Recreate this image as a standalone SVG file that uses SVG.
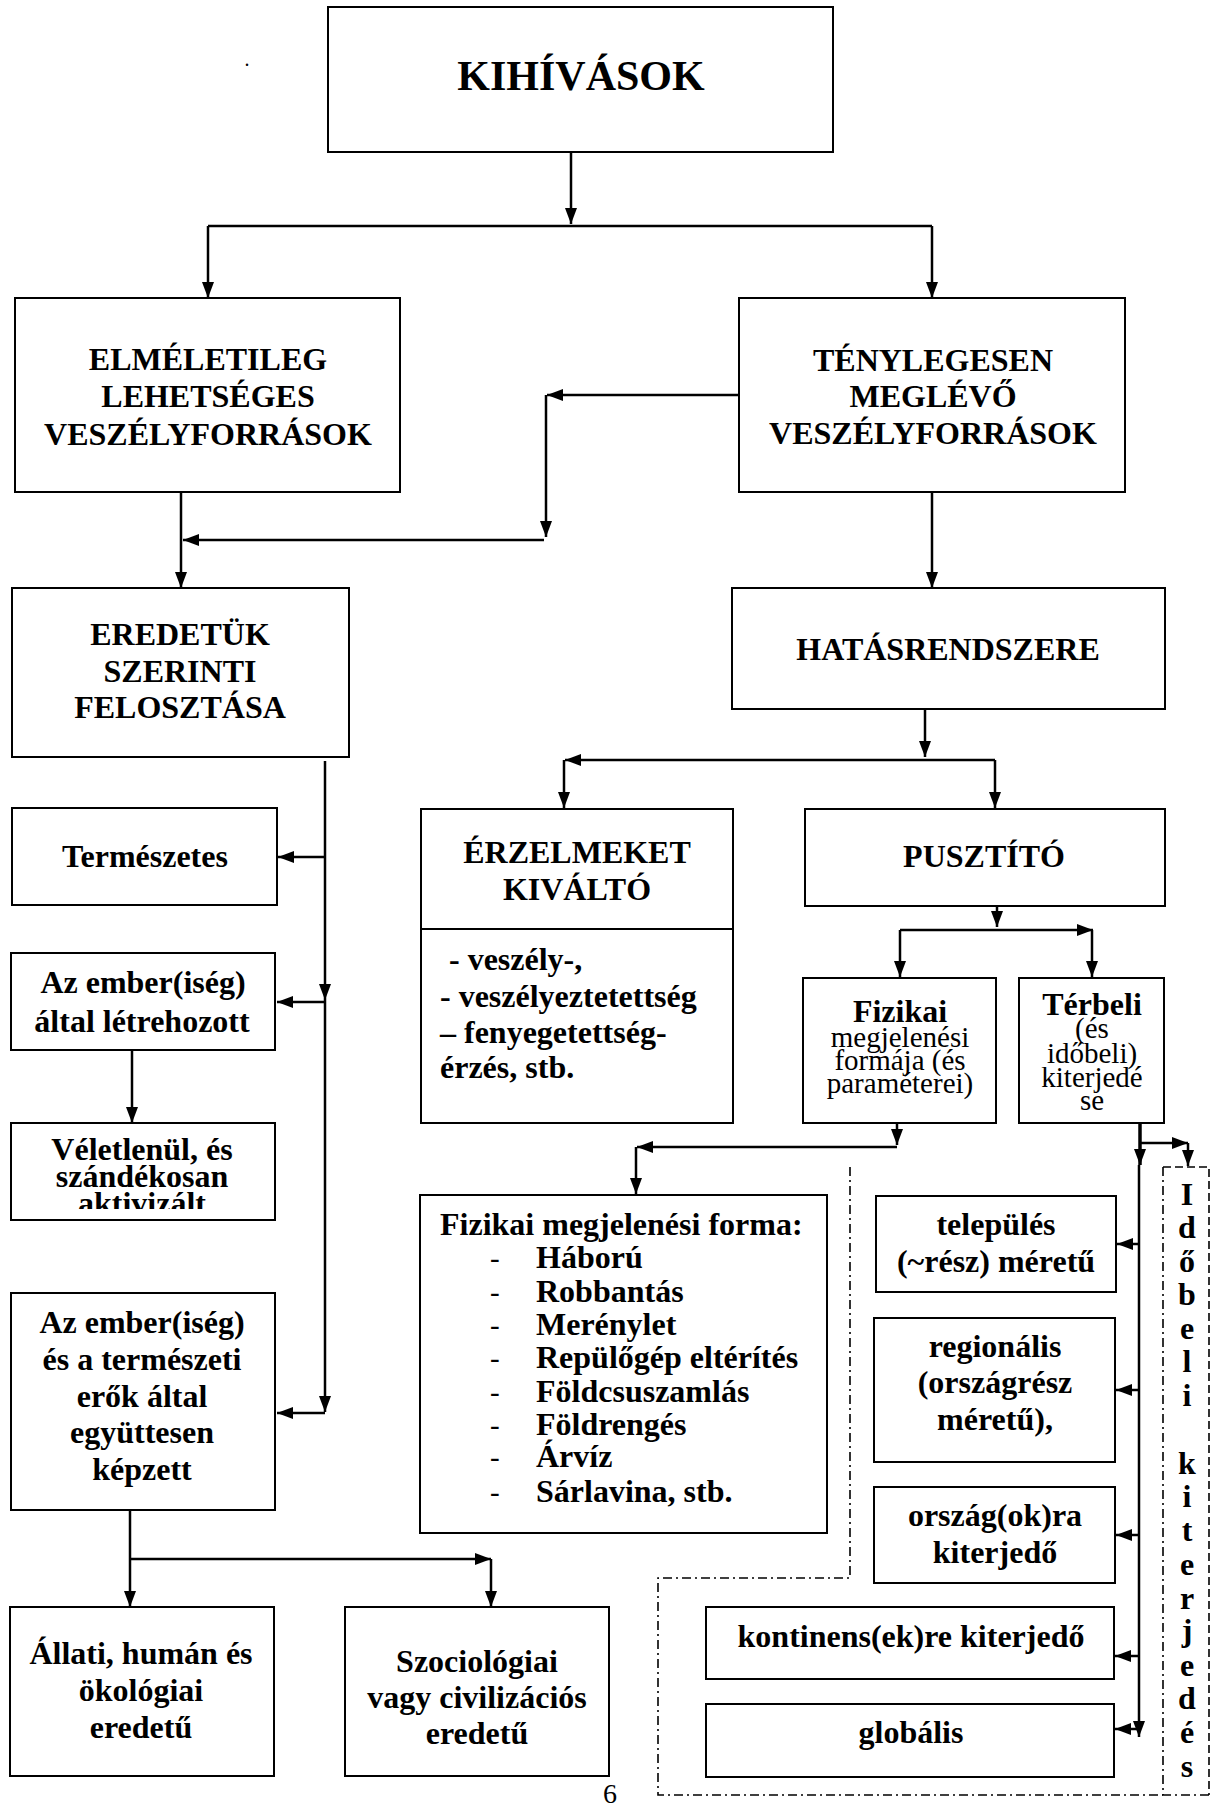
<svg xmlns="http://www.w3.org/2000/svg" width="1212" height="1804" viewBox="0 0 1212 1804">
<style>
.b{fill:#fff;stroke:#000;stroke-width:2}
.t{font-family:"Liberation Serif","Times New Roman",serif;font-weight:bold;font-size:32px;fill:#000;text-anchor:middle}
.tl{font-family:"Liberation Serif","Times New Roman",serif;font-weight:bold;font-size:32px;fill:#000}
.r{font-family:"Liberation Serif","Times New Roman",serif;font-size:29px;fill:#000;text-anchor:middle}
.rl{font-family:"Liberation Serif","Times New Roman",serif;font-size:29px;fill:#000}
.c{fill:none;stroke:#000;stroke-width:2.5}
.ca{fill:none;stroke:#000;stroke-width:2.5;marker-end:url(#ah)}
.dd{fill:none;stroke:#000;stroke-width:1.6;stroke-dasharray:9 4 2 4}
.ds{fill:none;stroke:#000;stroke-width:1.6;stroke-dasharray:8 4}
</style>
<defs>
<marker id="ah" viewBox="0 0 16 12" markerWidth="16" markerHeight="12" refX="16" refY="6" orient="auto" markerUnits="userSpaceOnUse">
<path d="M0,0 L16,6 L0,12 z" fill="#000"/>
</marker>
<clipPath id="clipVel"><rect x="11" y="1123" width="264" height="86"/></clipPath>
</defs>
<rect width="1212" height="1804" fill="#fff"/>

<g id="connectors">
<path class="ca" d="M571,152 V224"/>
<path class="c" d="M208,226 H932"/>
<path class="ca" d="M208,226 V298"/>
<path class="ca" d="M932,226 V298"/>
<path class="ca" d="M739,395 H547"/>
<path class="ca" d="M546,395 V537"/>
<path class="ca" d="M544,540 H183"/>
<path class="ca" d="M181,492 V588"/>
<path class="ca" d="M932,492 V588"/>
<path class="ca" d="M925,709 V757"/>
<path class="ca" d="M995,760 H565"/>
<path class="ca" d="M564,760 V808"/>
<path class="ca" d="M995,760 V808"/>
<path class="ca" d="M997,906 V927"/>
<path class="ca" d="M900,930 H1093"/>
<path class="ca" d="M900,930 V977"/>
<path class="ca" d="M1092,930 V977"/>
<path class="ca" d="M325,761 V1000"/>
<path class="ca" d="M325,1000 V1412"/>
<path class="ca" d="M325,857 H278"/>
<path class="ca" d="M325,1002 H277"/>
<path class="ca" d="M325,1413 H277"/>
<path class="ca" d="M132,1050 V1123"/>
<path class="ca" d="M130,1510 V1607"/>
<path class="ca" d="M130,1559 H491"/>
<path class="ca" d="M491,1559 V1607"/>
<path class="ca" d="M897,1123 V1145"/>
<path class="ca" d="M897,1147 H637"/>
<path class="ca" d="M636,1147 V1194"/>
<path class="ca" d="M1140,1119 V1165" style="stroke-width:3.5"/>
<path class="ca" d="M1139,1165 V1737"/>
<path class="ca" d="M1140,1143 H1188"/>
<path class="ca" d="M1188,1143 V1166"/>
<path class="ca" d="M1139,1244 H1117"/>
<path class="ca" d="M1139,1390 H1116"/>
<path class="ca" d="M1139,1535 H1116"/>
<path class="ca" d="M1139,1656 H1115"/>
<path class="ca" d="M1139,1729 H1115"/>
</g>

<g id="frame">
<path class="dd" d="M850,1167 V1578 H658 V1795 H1163"/>
<path class="dd" d="M1163,1167 V1795 H1209"/>
<path class="ds" d="M1163,1167 H1209 V1795"/>
</g>

<text class="r" x="247" y="66" style="font-size:20px">.</text>

<g id="kihivasok">
<rect class="b" x="328" y="7" width="505" height="145"/>
<text class="t" x="581" y="90" style="font-size:42px">KIHÍVÁSOK</text>
</g>
<g id="elmeletileg">
<rect class="b" x="15" y="298" width="385" height="194"/>
<text class="t" x="208" y="370">ELMÉLETILEG</text>
<text class="t" x="208" y="407">LEHETSÉGES</text>
<text class="t" x="208" y="445">VESZÉLYFORRÁSOK</text>
</g>
<g id="tenylegesen">
<rect class="b" x="739" y="298" width="386" height="194"/>
<text class="t" x="933" y="371">TÉNYLEGESEN</text>
<text class="t" x="933" y="407">MEGLÉVŐ</text>
<text class="t" x="933" y="444">VESZÉLYFORRÁSOK</text>
</g>
<g id="eredetuk">
<rect class="b" x="12" y="588" width="337" height="169"/>
<text class="t" x="180" y="645">EREDETÜK</text>
<text class="t" x="180" y="682">SZERINTI</text>
<text class="t" x="180" y="718">FELOSZTÁSA</text>
</g>
<g id="hatasrendszere">
<rect class="b" x="732" y="588" width="433" height="121"/>
<text class="t" x="948" y="660">HATÁSRENDSZERE</text>
</g>
<g id="termeszetes">
<rect class="b" x="12" y="808" width="265" height="97"/>
<text class="t" x="145" y="867">Természetes</text>
</g>
<g id="ember-altal">
<rect class="b" x="11" y="953" width="264" height="97"/>
<text class="t" x="143" y="993">Az ember(iség)</text>
<text class="t" x="142" y="1032">által létrehozott</text>
</g>
<g id="veletlenul">
<rect class="b" x="11" y="1123" width="264" height="97"/>
<text class="t" x="142" y="1160">Véletlenül, és</text>
<text class="t" x="142" y="1187">szándékosan</text>
<text class="t" x="142" y="1214" clip-path="url(#clipVel)">aktivizált</text>
</g>
<g id="ember-termeszet">
<rect class="b" x="11" y="1293" width="264" height="217"/>
<text class="t" x="142" y="1333">Az ember(iség)</text>
<text class="t" x="142" y="1370">és a természeti</text>
<text class="t" x="142" y="1407">erők által</text>
<text class="t" x="142" y="1443">együttesen</text>
<text class="t" x="142" y="1480">képzett</text>
</g>
<g id="allati">
<rect class="b" x="10" y="1607" width="264" height="169"/>
<text class="t" x="141" y="1664">Állati, humán és</text>
<text class="t" x="141" y="1701">ökológiai</text>
<text class="t" x="141" y="1738">eredetű</text>
</g>
<g id="szociologiai">
<rect class="b" x="345" y="1607" width="264" height="169"/>
<text class="t" x="477" y="1672">Szociológiai</text>
<text class="t" x="477" y="1708">vagy civilizációs</text>
<text class="t" x="477" y="1744">eredetű</text>
</g>
<g id="erzelmeket">
<rect class="b" x="421" y="809" width="312" height="314"/>
<path d="M421,929 H733" stroke="#000" stroke-width="2"/>
<text class="t" x="577" y="863">ÉRZELMEKET</text>
<text class="t" x="577" y="900">KIVÁLTÓ</text>
<text class="tl" x="449" y="970">- veszély-,</text>
<text class="tl" x="440" y="1007">- veszélyeztetettség</text>
<text class="tl" x="440" y="1043">– fenyegetettség-</text>
<text class="tl" x="440" y="1078">érzés, stb.</text>
</g>
<g id="pusztito">
<rect class="b" x="805" y="809" width="360" height="97"/>
<text class="t" x="984" y="867">PUSZTÍTÓ</text>
</g>
<g id="fizikai">
<rect class="b" x="803" y="978" width="193" height="145"/>
<text class="t" x="900" y="1022">Fizikai</text>
<text class="r" x="900" y="1047">megjelenési</text>
<text class="r" x="900" y="1070">formája (és</text>
<text class="r" x="900" y="1093">paraméterei)</text>
</g>
<g id="terbeli">
<rect class="b" x="1019" y="978" width="145" height="145"/>
<text class="t" x="1092" y="1015">Térbeli</text>
<text class="r" x="1092" y="1038">(és</text>
<text class="r" x="1092" y="1063">időbeli)</text>
<text class="r" x="1092" y="1087">kiterjedé</text>
<text class="r" x="1092" y="1110">se</text>
</g>
<g id="fizikai-lista">
<rect class="b" x="420" y="1195" width="407" height="338"/>
<text class="tl" x="440" y="1235">Fizikai megjelenési forma:</text>
<text class="rl" x="490" y="1268">-</text><text class="tl" x="536" y="1268">Háború</text>
<text class="rl" x="490" y="1302">-</text><text class="tl" x="536" y="1302">Robbantás</text>
<text class="rl" x="490" y="1335">-</text><text class="tl" x="536" y="1335">Merénylet</text>
<text class="rl" x="490" y="1368">-</text><text class="tl" x="536" y="1368">Repülőgép eltérítés</text>
<text class="rl" x="490" y="1402">-</text><text class="tl" x="536" y="1402">Földcsuszamlás</text>
<text class="rl" x="490" y="1435">-</text><text class="tl" x="536" y="1435">Földrengés</text>
<text class="rl" x="490" y="1467">-</text><text class="tl" x="536" y="1467">Árvíz</text>
<text class="rl" x="490" y="1502">-</text><text class="tl" x="536" y="1502">Sárlavina, stb.</text>
</g>
<g id="telepules">
<rect class="b" x="876" y="1196" width="240" height="96"/>
<text class="t" x="996" y="1235">település</text>
<text class="t" x="996" y="1272">(~rész) méretű</text>
</g>
<g id="regionalis">
<rect class="b" x="874" y="1318" width="241" height="144"/>
<text class="t" x="995" y="1357">regionális</text>
<text class="t" x="995" y="1393">(országrész</text>
<text class="t" x="995" y="1430">méretű),</text>
</g>
<g id="orszag">
<rect class="b" x="874" y="1487" width="241" height="96"/>
<text class="t" x="995" y="1526">ország(ok)ra</text>
<text class="t" x="995" y="1563">kiterjedő</text>
</g>
<g id="kontinens">
<rect class="b" x="706" y="1607" width="408" height="72"/>
<text class="t" x="911" y="1647">kontinens(ek)re kiterjedő</text>
</g>
<g id="globalis">
<rect class="b" x="706" y="1704" width="408" height="73"/>
<text class="t" x="911" y="1743">globális</text>
</g>
<g id="idobeli">
<text class="t" x="1187" y="1205">I</text>
<text class="t" x="1187" y="1238">d</text>
<text class="t" x="1187" y="1272">ő</text>
<text class="t" x="1187" y="1305">b</text>
<text class="t" x="1187" y="1339">e</text>
<text class="t" x="1187" y="1372">l</text>
<text class="t" x="1187" y="1406">i</text>
<text class="t" x="1187" y="1474">k</text>
<text class="t" x="1187" y="1507">i</text>
<text class="t" x="1187" y="1541">t</text>
<text class="t" x="1187" y="1575">e</text>
<text class="t" x="1187" y="1609">r</text>
<text class="t" x="1187" y="1641">j</text>
<text class="t" x="1187" y="1676">e</text>
<text class="t" x="1187" y="1709">d</text>
<text class="t" x="1187" y="1743">é</text>
<text class="t" x="1187" y="1777">s</text>
</g>
<text class="r" x="610" y="1803" style="font-size:28px">6</text>
</svg>
